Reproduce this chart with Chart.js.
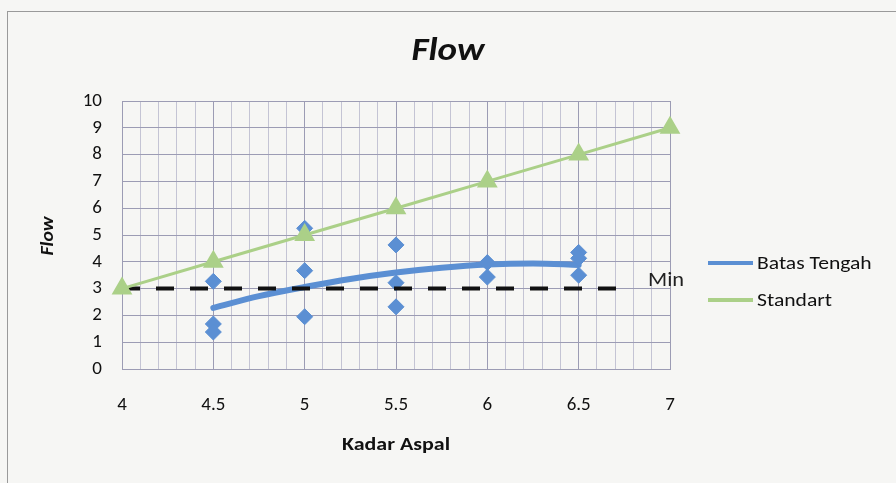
<!DOCTYPE html>
<html>
<head>
<meta charset="utf-8">
<script src="https://cdn.jsdelivr.net/npm/chart.js@4.4.1/dist/chart.umd.min.js"></script>
<style>
  html, body { margin: 0; padding: 0; background: #f6f6f4; }
  #wrap { width: 896px; height: 483px; position: relative; }
</style>
</head>
<body>
<div id="wrap"><canvas id="c" width="896" height="483"></canvas></div>
<script>
// Measured flow for each asphalt content sample
const kadarAspal = [4.5, 4.5, 4.5, 5, 5, 5, 5.5, 5.5, 5.5, 6, 6, 6.5, 6.5, 6.5];
const flowValues = [3.27, 1.68, 1.38, 5.25, 3.67, 1.95, 4.63, 3.22, 2.32, 3.97, 3.43, 4.35, 4.13, 3.5];

// Trend curve through the samples (Batas Tengah)
const trendX = [4.5, 4.75, 5, 5.25, 5.5, 5.75, 6, 6.25, 6.5];
const trendY = [2.28, 2.72, 3.06, 3.36, 3.6, 3.78, 3.9, 3.94, 3.88];

// Specification line (Standart)
const standartX = [4, 4.5, 5, 5.5, 6, 6.5, 7];
const standartY = [3, 4, 5, 6, 7, 8, 9];

// Minimum flow requirement
const minX = [4, 6.75];
const minY = [3, 3];

const xTickLabels = ['4', '4.5', '5', '5.5', '6', '6.5', '7'];
const yTickLabels = ['0', '1', '2', '3', '4', '5', '6', '7', '8', '9', '10'];

const seriesNames = ['Batas Tengah', 'Standart'];

const BLUE = '#5b8fd3';
const GREEN = '#abd088';
const pts = (xs, ys) => xs.map((x, i) => ({ x: x, y: ys[i] }));

const isMajor = v => Math.abs(v * 2 - Math.round(v * 2)) < 1e-6;
const labelFor = v => {
  const s = (Math.round(v * 10) / 10).toString();
  return xTickLabels.includes(s) ? s : '';
};

const FONT_C = 'Carlito, Lato, sans-serif';

// text drawn slightly widened, as in the original office-style layout
function wideText(ctx, text, x, y, font, align, sx) {
  ctx.save();
  ctx.font = font;
  ctx.textBaseline = 'middle';
  const w = ctx.measureText(text).width * sx;
  let left = x;
  if (align === 'center') left = x - w / 2;
  ctx.translate(left, y);
  ctx.scale(sx, 1);
  ctx.textAlign = 'left';
  ctx.fillText(text, 0, 0);
  ctx.restore();
}

const decor = {
  id: 'decor',
  beforeDraw(chart) {
    const ctx = chart.ctx;
    ctx.save();
    ctx.fillStyle = '#f6f6f4';
    ctx.fillRect(0, 0, chart.width, chart.height);
    ctx.strokeStyle = '#9a9a9a';
    ctx.lineWidth = 1;
    ctx.strokeRect(7.5, 11.5, 900, 480);
    ctx.restore();
  },
  afterDraw(chart) {
    const ctx = chart.ctx;
    const xs = chart.scales.x, ys = chart.scales.y;
    ctx.save();
    ctx.fillStyle = '#111';
    // chart title
    wideText(ctx, 'Flow', 448, 52, 'italic bold 33px ' + FONT_C, 'center', 1.12);
    // x axis title
    wideText(ctx, 'Kadar Aspal', 396, 445, 'bold 18px ' + FONT_C, 'center', 1.22);
    // y axis title
    ctx.save();
    ctx.translate(48, 236);
    ctx.rotate(-Math.PI / 2);
    wideText(ctx, 'Flow', 0, 0, 'italic bold 18px ' + FONT_C, 'center', 1.1);
    ctx.restore();
    // label at the end of the minimum line
    ctx.fillStyle = '#222';
    wideText(ctx, 'Min', xs.getPixelForValue(6.88), ys.getPixelForValue(3.28), '20px ' + FONT_C, 'left', 1.12);
    // legend
    const items = [[seriesNames[0], BLUE, 263], [seriesNames[1], GREEN, 300]];
    items.forEach(([name, col, y]) => {
      ctx.strokeStyle = col;
      ctx.lineWidth = 4;
      ctx.beginPath();
      ctx.moveTo(708, y);
      ctx.lineTo(753, y);
      ctx.stroke();
      ctx.fillStyle = '#111';
      wideText(ctx, name, 757, y + 1, '18px ' + FONT_C, 'left', 1.2);
    });
    ctx.restore();
  }
};

new Chart(document.getElementById('c'), {
  type: 'scatter',
  data: {
    datasets: [
      {
        label: seriesNames[1],
        data: pts(standartX, standartY),
        showLine: true,
        clip: false,
        borderColor: GREEN,
        backgroundColor: GREEN,
        borderWidth: 3,
        pointStyle: 'triangle',
        pointRadius: 9,
        pointHoverRadius: 9
      },
      {
        label: 'Min',
        data: pts(minX, minY),
        showLine: true,
        borderColor: '#111',
        borderWidth: 4,
        borderDash: [18, 16],
        pointRadius: 0
      },
      {
        label: 'Data',
        data: pts(kadarAspal, flowValues),
        showLine: false,
        clip: false,
        backgroundColor: BLUE,
        borderColor: BLUE,
        pointStyle: 'rectRot',
        pointRadius: 8,
        pointHoverRadius: 8
      },
      {
        label: seriesNames[0],
        data: pts(trendX, trendY),
        showLine: true,
        borderColor: BLUE,
        borderWidth: 6,
        borderCapStyle: 'round',
        cubicInterpolationMode: 'monotone',
        pointRadius: 0
      }
    ]
  },
  options: {
    responsive: false,
    animation: false,
    devicePixelRatio: 1,
    layout: { padding: { left: 10, top: 101, right: 226, bottom: 10 } },
    plugins: {
      legend: { display: false },
      title: { display: false },
      tooltip: { enabled: false }
    },
    scales: {
      x: {
        type: 'linear',
        min: 4, max: 7,
        afterFit: s => { s.height = 104; },
        afterBuildTicks: s => {
          const t = [];
          for (let i = 0; i <= 30; i++) t.push({ value: 4 + i / 10 });
          s.ticks = t;
        },
        ticks: {
          autoSkip: false,
          maxRotation: 0,
          padding: 25,
          color: '#111',
          font: { family: FONT_C, size: 19 },
          callback: v => labelFor(v)
        },
        grid: {
          drawTicks: false,
          color: c => isMajor(c.tick.value) ? '#9c9cb4' : '#c4c4d4',
          lineWidth: 1
        },
        border: { color: '#9c9cb4' }
      },
      y: {
        type: 'linear',
        min: 0, max: 10,
        afterFit: s => { s.width = 112; },
        ticks: {
          stepSize: 1,
          padding: 20,
          color: '#111',
          font: { family: FONT_C, size: 19 },
          callback: (v, i) => yTickLabels[i]
        },
        grid: { drawTicks: false, color: '#9c9cb4' },
        border: { color: '#9c9cb4' }
      }
    }
  },
  plugins: [decor]
});
</script>
</body>
</html>
